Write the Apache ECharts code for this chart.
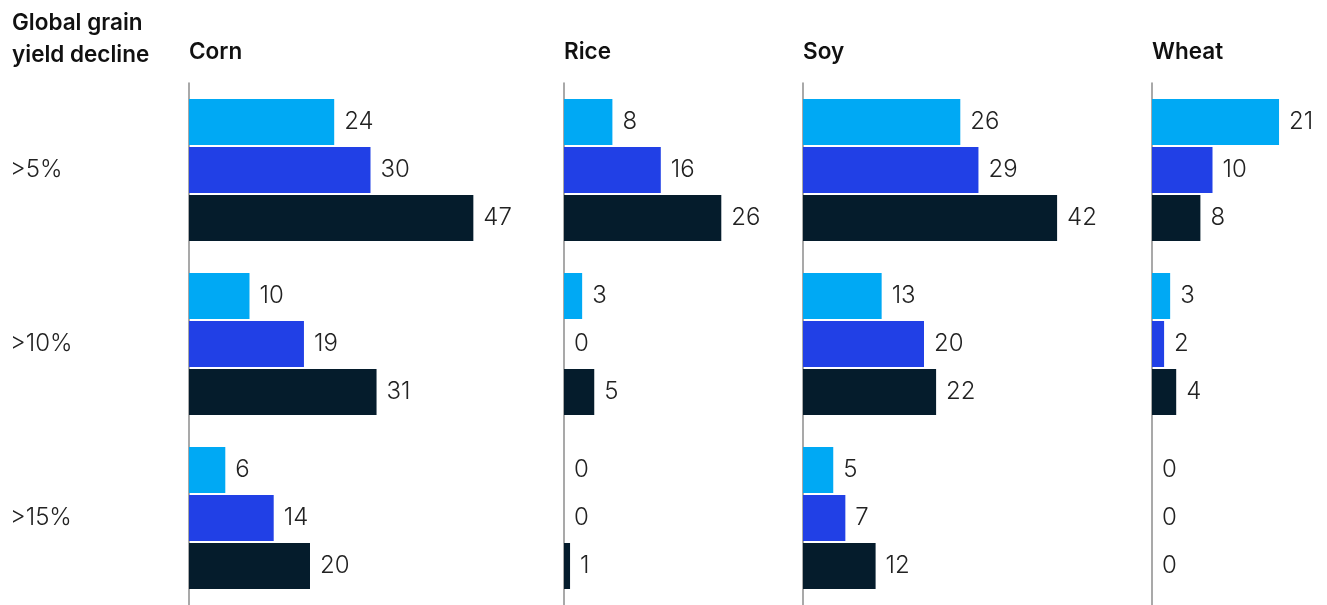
<!DOCTYPE html>
<html><head><meta charset="utf-8">
<script src="https://cdn.jsdelivr.net/npm/echarts@6/dist/echarts.min.js"></script>
<style>html,body{margin:0;padding:0;background:#fff}#c{width:1327px;height:605px}</style>
</head><body><div id="c"></div>
<script>
const crops = ['Corn', 'Rice', 'Soy', 'Wheat'];
const levels = ['>5%', '>10%', '>15%'];
const seriesNames = ['Scenario 1', 'Scenario 2', 'Scenario 3'];
const colors = ['#00A9F4', '#2140E6', '#051C2C'];
// values per crop: [series1, series2, series3], each by level
const cornValues = [[24, 10, 6], [30, 19, 14], [47, 31, 20]];
const riceValues = [[8, 3, 0], [16, 0, 0], [26, 5, 1]];
const soyValues = [[26, 13, 5], [29, 20, 7], [42, 22, 12]];
const wheatValues = [[21, 3, 0], [10, 2, 0], [8, 4, 0]];
const allValues = [cornValues, riceValues, soyValues, wheatValues];
const axisMax = [50, 30, 50, 28];
const gridLefts = [189, 564, 803, 1152];
const pxPerUnit = 6.05;
const FONT = 'Inter, "Liberation Sans", sans-serif';

const chart = echarts.init(document.getElementById('c'));
const grids = [], xAxes = [], yAxes = [], series = [], titles = [];
titles.push({ text: 'Global grain\nyield decline', left: 7, top: 2,
  textStyle: { fontFamily: FONT, fontSize: 22.5, fontWeight: 600, color: '#111', lineHeight: 32 } });
crops.forEach((crop, i) => {
  grids.push({ left: gridLefts[i], top: 83, width: axisMax[i] * pxPerUnit, height: 530 });
  titles.push({ text: crop, left: gridLefts[i] - 5, top: 36,
    textStyle: { fontFamily: FONT, fontSize: 22.5, fontWeight: 600, color: '#111' } });
  xAxes.push({ type: 'value', gridIndex: i, min: 0, max: axisMax[i], show: false });
  yAxes.push({ type: 'category', gridIndex: i, data: levels, inverse: true,
    axisLine: { show: true, lineStyle: { color: '#8c8c8c', width: 1.5 } },
    axisTick: { show: false },
    axisLabel: { show: i === 0, align: 'left', margin: gridLefts[0] - 10,
      fontFamily: FONT, fontSize: 24, fontWeight: 300, color: '#222' } });
  allValues[i].forEach((vals, s) => {
    series.push({ type: 'bar', name: seriesNames[s], xAxisIndex: i, yAxisIndex: i, data: vals,
      barWidth: 46, barGap: '4.4%',
      itemStyle: { color: colors[s] },
      label: { show: true, position: 'right', distance: 10, fontFamily: FONT, fontSize: 24,
        fontWeight: 300, color: '#222' } });
  });
});
chart.setOption({ animation: false, title: titles, grid: grids, xAxis: xAxes, yAxis: yAxes, series: series });
</script></body></html>
